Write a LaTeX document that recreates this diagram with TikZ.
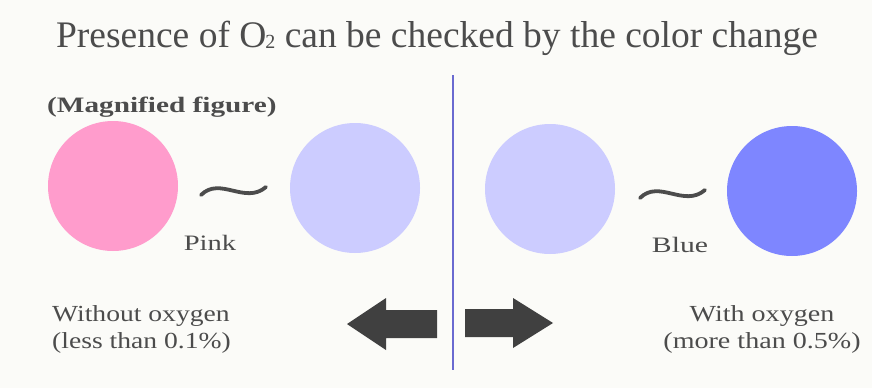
\documentclass[tikz,border=0pt]{standalone}
\usepackage{fontspec}
\setmainfont{Liberation Serif}
\begin{document}
\begin{tikzpicture}[x=1pt,y=-1pt,
  txt/.style={text=black!70, inner sep=0pt},
  dot/.style={circle, inner sep=0pt, minimum size=130pt},
  tildeline/.style={line width=3.8pt, draw=black!70, line cap=round},
  bigarrow/.style={fill=black!75, draw=none}]
\definecolor{bgc}{HTML}{FBFBF8}
\definecolor{pinkc}{HTML}{FF9CCC}
\definecolor{lavc}{HTML}{CCCCFF}
\definecolor{bluec}{HTML}{7E86FF}
\definecolor{linec}{HTML}{6A6AD0}
\fill[bgc] (0,0) rectangle (872,388);
\useasboundingbox (0,0) rectangle (872,388);
% title
\node[txt, font=\fontsize{37.5}{40}\selectfont, anchor=base] (title) at (437,47)
  {Presence of O\kern-1pt\raisebox{-1pt}{\fontsize{20}{20}\selectfont 2} can be checked by the color change};
\node[txt, font=\fontsize{22}{24}\selectfont\bfseries, anchor=west] (mag) at (47,107) {\scalebox{1.33}[1]{(Magnified figure)}};
% circles
\node[dot, fill=pinkc] (c1) at (113,186) {};
\node[dot, fill=lavc] (c2) at (355,188) {};
\node[dot, fill=lavc] (c3) at (550,189) {};
\node[dot, fill=bluec] (c4) at (792,191) {};
% tildes
\draw[tildeline] (201,195) .. controls (220,176) and (245,205) .. (266,187);
\draw[tildeline] (640,198) .. controls (659,179) and (684,208) .. (705,190);
\node[txt, font=\fontsize{22}{24}\selectfont] (pink) at (210,243) {\scalebox{1.3}[1]{Pink}};
\node[txt, font=\fontsize{22}{24}\selectfont] (blue) at (680,245) {\scalebox{1.35}[1]{Blue}};
% divider
\coordinate (ltop) at (453,75);
\coordinate (lbot) at (453,370);
\draw[linec, line width=2pt] (ltop) -- (lbot);
% arrows
\fill[bigarrow] (347,324) -- (386,298) -- (386,310) -- (437,310) -- (437,338) -- (386,338) -- (386,350) -- cycle;
\fill[bigarrow] (553,323) -- (513,298) -- (513,309) -- (465,309) -- (465,337) -- (513,337) -- (513,348) -- cycle;
% bottom labels
\node[txt, font=\fontsize{23}{27}\selectfont, anchor=north west] (without) at (52,302)
  {\scalebox{1.2}[1]{\begin{tabular}{@{}l@{}}Without oxygen\\(less than 0.1\%)\end{tabular}}};
\node[txt, font=\fontsize{23}{27}\selectfont, anchor=north] (with) at (762,302)
  {\scalebox{1.22}[1]{\begin{tabular}{@{}c@{}}With oxygen\\(more than 0.5\%)\end{tabular}}};
\end{tikzpicture}
\end{document}
